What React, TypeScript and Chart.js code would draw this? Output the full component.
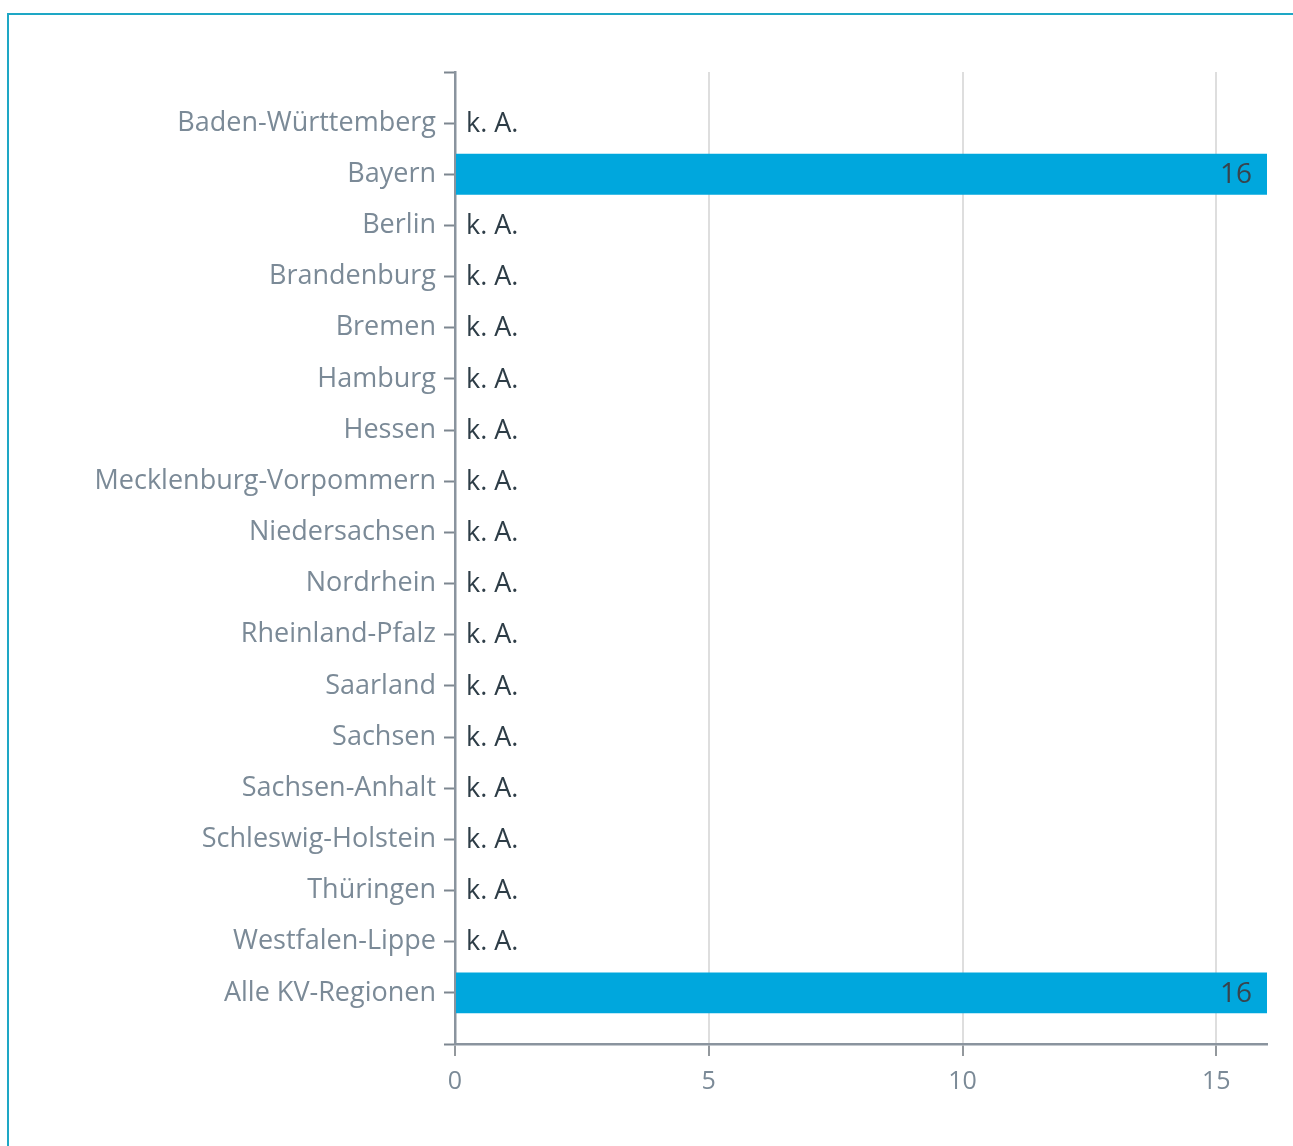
import React, { useEffect, useRef } from "react";
import { Chart, registerables } from "chart.js";

Chart.register(...registerables);

const categories = [
  "Baden-Württemberg",
  "Bayern",
  "Berlin",
  "Brandenburg",
  "Bremen",
  "Hamburg",
  "Hessen",
  "Mecklenburg-Vorpommern",
  "Niedersachsen",
  "Nordrhein",
  "Rheinland-Pfalz",
  "Saarland",
  "Sachsen",
  "Sachsen-Anhalt",
  "Schleswig-Holstein",
  "Thüringen",
  "Westfalen-Lippe",
  "Alle KV-Regionen",
];

const values: (number | null)[] = [
  null, 16, null, null, null, null, null, null, null,
  null, null, null, null, null, null, null, null, 16,
];

const missingLabel = "k. A.";
const xTicks = [0, 5, 10, 15];
const xMax = 16;

const FONT = "'Open Sans', sans-serif";

const valueLabels = {
  id: "valueLabels",
  afterDatasetsDraw(chart: any) {
    const { ctx, scales } = chart;
    const xs = scales.x;
    const ys = scales.y;
    ctx.save();
    ctx.textBaseline = "middle";
    values.forEach((v, i) => {
      const y = ys.getPixelForValue(i);
      if (v == null) {
        ctx.font = `27px ${FONT}`;
        ctx.fillStyle = "#2e3d47";
        ctx.textAlign = "left";
        ctx.fillText(missingLabel, xs.getPixelForValue(0) + 11, y + 1);
      } else {
        ctx.font = `28px ${FONT}`;
        ctx.fillStyle = "#37444d";
        ctx.textAlign = "right";
        ctx.fillText(String(v), xs.getPixelForValue(v) - 15, y + 1);
      }
    });
    ctx.restore();
  },
};

export default function App() {
  const ref = useRef<HTMLCanvasElement>(null);
  useEffect(() => {
    if (!ref.current) return;
    const chart = new Chart(ref.current, {
      type: "bar",
      data: {
        datasets: [
          {
            data: values.map((v, i) => ({ x: v, y: i })) as any,
            backgroundColor: "#00a7dd",
            borderWidth: 0,
            categoryPercentage: 1,
            barPercentage: 0.8,
          },
        ],
      },
      options: {
        indexAxis: "y",
        animation: false,
        responsive: false,
        maintainAspectRatio: false,
        layout: { padding: { left: 8, right: 26, top: 72, bottom: 38 } },
        plugins: { legend: { display: false }, tooltip: { enabled: false } },
        scales: {
          x: {
            type: "linear",
            min: 0,
            max: xMax,
            afterBuildTicks: (s: any) => {
              s.ticks = xTicks.map((v) => ({ value: v }));
            },
            grid: {
              color: (c: any) => (c.tick && c.tick.value === 0 ? "rgba(0,0,0,0)" : "#dedede"),
              lineWidth: 2,
              tickColor: "#6f767c",
              tickLength: 12,
              tickWidth: 1.5,
            },
            border: { color: "#8a949e", width: 2.5 },
            ticks: {
              color: "#7b8a97",
              font: { family: FONT, size: 25 },
              padding: 11,
            },
          },
          y: {
            type: "linear",
            reverse: true,
            offset: false,
            min: -1,
            max: categories.length,
            afterBuildTicks: (s: any) => {
              const t = [];
              for (let i = -1; i <= categories.length; i++) t.push({ value: i });
              s.ticks = t;
            },
            afterFit: (s: any) => {
              s.width = 447;
            },
            grid: {
              offset: false,
              drawOnChartArea: false,
              tickLength: 11,
              tickColor: "#7d8790",
              tickWidth: 2,
            },
            border: { color: "#8a949e", width: 2.5 },
            ticks: {
              color: "#7b8a97",
              font: { family: FONT, size: 27 },
              padding: 8,
              autoSkip: false,
              callback: (v: any) => categories[v as number] ?? "",
            },
          },
        },
      },
      plugins: [valueLabels],
    });
    return () => chart.destroy();
  }, []);

  return (
    <div style={{ position: "absolute", left: 0, top: 0, width: 1293, height: 1146, overflow: "hidden", background: "#fff" }}>
      <div
        style={{
          position: "absolute",
          left: 7,
          top: 13,
          width: 1400,
          height: 1200,
          borderTop: "2px solid #1ea7c5",
          borderLeft: "2px solid #1ea7c5",
        }}
      />
      <canvas ref={ref} width={1293} height={1146} style={{ position: "absolute", left: 0, top: 0 }} />
    </div>
  );
}
